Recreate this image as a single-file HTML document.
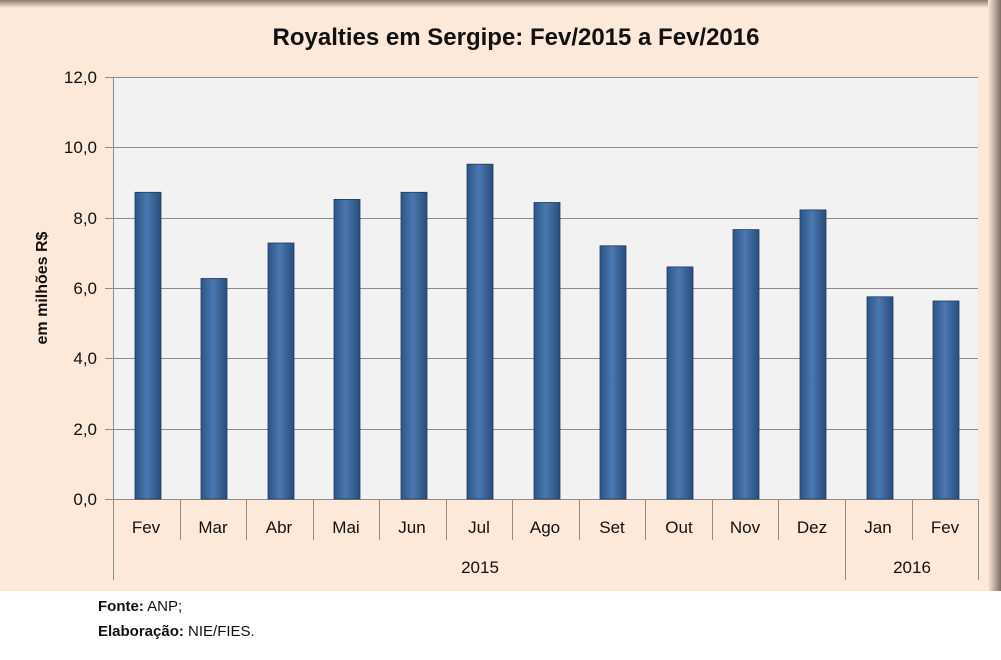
<!DOCTYPE html>
<html><head><style>
body{margin:0;background:#fff;width:1001px;height:655px;overflow:hidden;font-family:"Liberation Sans",sans-serif}
</style></head><body>
<svg width="1001" height="655" xmlns="http://www.w3.org/2000/svg" font-family="Liberation Sans, sans-serif">
<defs>
<linearGradient id="b" x1="0" x2="1" y1="0" y2="0">
<stop offset="0" stop-color="#2e5486"/><stop offset="0.45" stop-color="#4a78b0"/><stop offset="1" stop-color="#2a4d7c"/>
</linearGradient>
<linearGradient id="sr" x1="0" x2="1"><stop offset="0" stop-color="#fde9d9"/><stop offset="1" stop-color="#7d6e64"/></linearGradient>
<linearGradient id="st" x1="0" x2="0" y1="1" y2="0"><stop offset="0" stop-color="#fde9d9"/><stop offset="1" stop-color="#8a7b70"/></linearGradient>
</defs>
<rect x="0" y="0" width="1001" height="591" fill="#fde9d9"/>
<rect x="0" y="0" width="1001" height="8" fill="url(#st)"/>
<rect x="988" y="0" width="13" height="591" fill="url(#sr)"/>
<text x="516" y="45" font-size="24" font-weight="bold" text-anchor="middle" fill="#111">Royalties em Sergipe: Fev/2015 a Fev/2016</text>
<rect x="113" y="77" width="865" height="422" fill="#f2f2f2"/>
<g stroke="#8c8c8c" stroke-width="1">
<line x1="113" x2="978" y1="77.5" y2="77.5"/><line x1="113" x2="978" y1="147.5" y2="147.5"/>
<line x1="113" x2="978" y1="218.5" y2="218.5"/><line x1="113" x2="978" y1="288.5" y2="288.5"/>
<line x1="113" x2="978" y1="358.5" y2="358.5"/><line x1="113" x2="978" y1="429.5" y2="429.5"/>
<line x1="113.5" x2="113.5" y1="77" y2="580"/>
<line x1="105" x2="978" y1="499.5" y2="499.5"/>
<line x1="105" x2="113" y1="77.5" y2="77.5"/><line x1="105" x2="113" y1="147.5" y2="147.5"/><line x1="105" x2="113" y1="218.5" y2="218.5"/><line x1="105" x2="113" y1="288.5" y2="288.5"/><line x1="105" x2="113" y1="358.5" y2="358.5"/><line x1="105" x2="113" y1="429.5" y2="429.5"/>
<line x1="180.5" x2="180.5" y1="499" y2="540"/><line x1="246.5" x2="246.5" y1="499" y2="540"/>
<line x1="313.5" x2="313.5" y1="499" y2="540"/><line x1="379.5" x2="379.5" y1="499" y2="540"/>
<line x1="446.5" x2="446.5" y1="499" y2="540"/><line x1="512.5" x2="512.5" y1="499" y2="540"/>
<line x1="579.5" x2="579.5" y1="499" y2="540"/><line x1="645.5" x2="645.5" y1="499" y2="540"/>
<line x1="712.5" x2="712.5" y1="499" y2="540"/><line x1="778.5" x2="778.5" y1="499" y2="540"/>
<line x1="845.5" x2="845.5" y1="499" y2="580"/><line x1="912.5" x2="912.5" y1="499" y2="540"/>
<line x1="978.5" x2="978.5" y1="499" y2="580"/>
</g>
<g font-size="17" fill="#111" text-anchor="end">
<text x="97" y="83">12,0</text><text x="97" y="153">10,0</text><text x="97" y="224">8,0</text><text x="97" y="294">6,0</text><text x="97" y="364">4,0</text><text x="97" y="435">2,0</text><text x="97" y="505">0,0</text>
</g>
<text transform="translate(47,288) rotate(-90)" font-size="16" font-weight="bold" text-anchor="middle" fill="#111">em milhões R$</text>
<g fill="url(#b)" stroke="#1f3a60" stroke-width="0.8">
<rect x="135" y="192.3" width="26" height="306.7"/>
<rect x="201" y="278.5" width="26" height="220.5"/>
<rect x="268" y="243" width="26" height="256"/>
<rect x="334" y="199.4" width="26" height="299.6"/>
<rect x="401" y="192.3" width="26" height="306.7"/>
<rect x="467" y="164.2" width="26" height="334.8"/>
<rect x="534" y="202.5" width="26" height="296.5"/>
<rect x="600" y="245.8" width="26" height="253.2"/>
<rect x="667" y="266.9" width="26" height="232.1"/>
<rect x="733" y="229.6" width="26" height="269.4"/>
<rect x="800" y="209.9" width="26" height="289.1"/>
<rect x="867" y="296.8" width="26" height="202.2"/>
<rect x="933" y="301" width="26" height="198"/>
</g>
<g font-size="17" fill="#111" text-anchor="middle">
<text x="146" y="533">Fev</text><text x="213" y="533">Mar</text><text x="279" y="533">Abr</text>
<text x="346" y="533">Mai</text><text x="412" y="533">Jun</text><text x="479" y="533">Jul</text>
<text x="545" y="533">Ago</text><text x="612" y="533">Set</text><text x="679" y="533">Out</text>
<text x="745" y="533">Nov</text><text x="812" y="533">Dez</text><text x="878" y="533">Jan</text>
<text x="945" y="533">Fev</text>
<text x="480" y="573">2015</text>
<text x="912" y="573">2016</text>
</g>
<text x="98" y="611" font-size="15" fill="#111"><tspan font-weight="bold">Fonte:</tspan> ANP;</text>
<text x="98" y="636" font-size="15" fill="#111"><tspan font-weight="bold">Elaboração:</tspan> NIE/FIES.</text>
</svg>
</body></html>
